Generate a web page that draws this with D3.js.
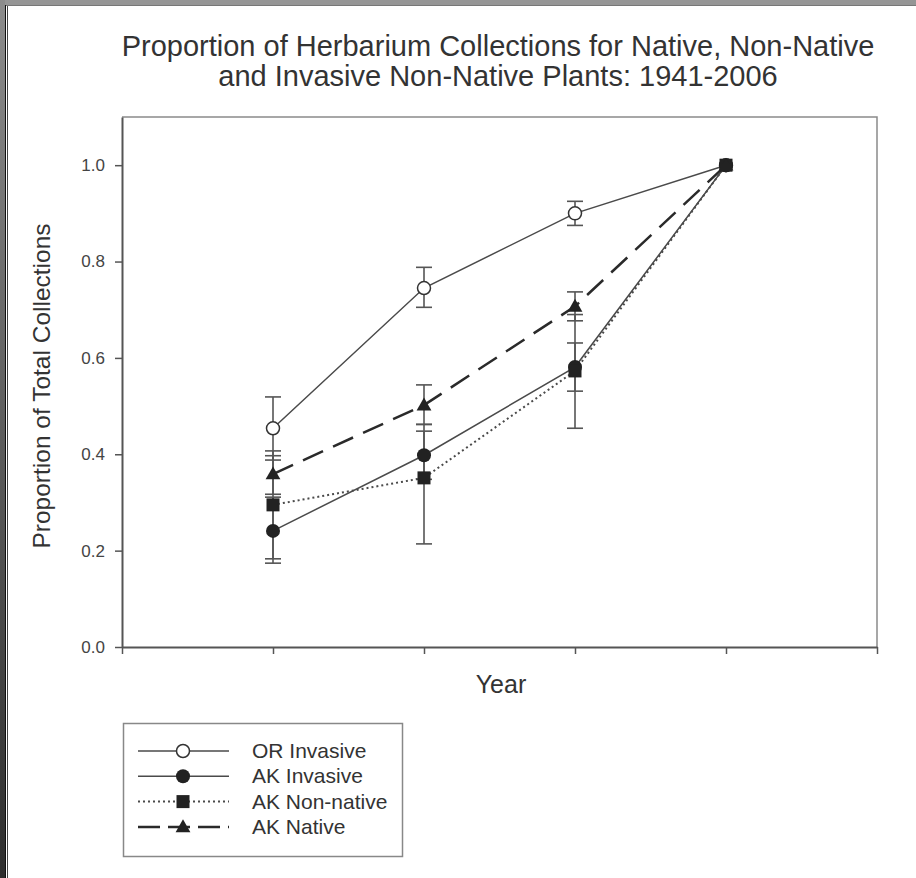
<!DOCTYPE html>
<html>
<head>
<meta charset="utf-8">
<script src="https://cdn.jsdelivr.net/npm/d3@7"></script>
<style>
  body { margin: 0; background: #fff; }
  svg { display: block; font-family: "Liberation Sans", Arial, sans-serif; }
</style>
</head>
<body>
<div id="chart-area"></div>
<script>
// periods on the x axis (no labels in the original)
const periods = [1, 2, 3, 4];
const yTicks = [0, 0.2, 0.4, 0.6, 0.8, 1.0];

const orInvasive   = [0.454, 0.745, 0.900, 1.0];
const orInvasiveLo = [0.388, 0.705, 0.875, 1.0];
const orInvasiveHi = [0.519, 0.788, 0.925, 1.0];

const akInvasive   = [0.241, 0.398, 0.581, 1.0];
const akInvasiveLo = [0.174, 0.348, 0.531, 1.0];
const akInvasiveHi = [0.311, 0.448, 0.631, 1.0];

const akNonNative   = [0.295, 0.351, 0.573, 1.0];
const akNonNativeLo = [0.183, 0.214, 0.454, 1.0];
const akNonNativeHi = [0.407, 0.462, 0.690, 1.0];

const akNative   = [0.359, 0.502, 0.707, 1.0];
const akNativeLo = [0.317, 0.462, 0.677, 1.0];
const akNativeHi = [0.397, 0.544, 0.737, 1.0];

const seriesNames = ["OR Invasive", "AK Invasive", "AK Non-native", "AK Native"];

const W = 916, H = 878;
const margin = { left: 122, right: 39, top: 117, bottom: 231 };
const width = W - margin.left - margin.right, height = H - margin.top - margin.bottom;

const svg = d3.select("#chart-area").append("svg")
    .attr("width", W)
    .attr("height", H);

// window frame round the picture
const grad = svg.append("defs").append("linearGradient")
    .attr("id", "side").attr("x1", 0).attr("y1", 0).attr("x2", 0).attr("y2", 1);
grad.append("stop").attr("offset", "0%").attr("stop-color", "#8c8c8c");
grad.append("stop").attr("offset", "100%").attr("stop-color", "#2e2e2e");
svg.append("rect").attr("x", 0).attr("y", 0).attr("width", W).attr("height", 5).attr("fill", "#959595");
svg.append("line").attr("x1", 5).attr("x2", W).attr("y1", 5.5).attr("y2", 5.5).attr("stroke", "#777");
svg.append("rect").attr("x", 0).attr("y", 0).attr("width", 5).attr("height", H).attr("fill", "url(#side)");
svg.append("line").attr("x1", 5.5).attr("x2", 5.5).attr("y1", 5).attr("y2", H).attr("stroke", "#111");
svg.append("line").attr("x1", 7.5).attr("x2", 7.5).attr("y1", 6).attr("y2", H).attr("stroke", "#444");

// title
const title = svg.append("text")
    .attr("x", 498)
    .attr("text-anchor", "middle")
    .attr("font-size", "29px")
    .attr("fill", "#333");
title.append("tspan").attr("x", 498).attr("y", 56).text("Proportion of Herbarium Collections for Native, Non-Native");
title.append("tspan").attr("x", 498).attr("y", 86).text("and Invasive Non-Native Plants: 1941-2006");

const g = svg.append("g")
    .attr("transform", "translate(" + margin.left + "," + margin.top + ")");

const x = d3.scaleLinear().domain([0, 5]).range([0, width]);
const y = d3.scaleLinear().domain([0, 1.1]).range([height, 0]);

// frame top / right
g.append("path")
  .attr("d", "M0,0H" + width + "V" + height)
  .attr("fill", "none")
  .attr("stroke", "#8a8a8a")
  .attr("stroke-width", 1.5);

const xAxis = d3.axisBottom(x).tickValues([0, 1, 2, 3, 4, 5]).tickFormat("").tickSize(7).tickSizeOuter(0);
const yAxis = d3.axisLeft(y).tickValues(yTicks).tickFormat(d3.format(".1f")).tickSize(7).tickSizeOuter(0).tickPadding(10);

const gx = g.append("g").attr("transform", "translate(0," + height + ")").call(xAxis);
const gy = g.append("g").call(yAxis);
[gx, gy].forEach(a => {
  a.select(".domain").attr("stroke", "#555").attr("stroke-width", 2);
  a.selectAll(".tick line").attr("stroke", "#555").attr("stroke-width", 1.5);
  a.selectAll(".tick text").attr("font-size", "17px").attr("fill", "#444")
    .attr("font-family", "Liberation Sans, Arial, sans-serif");
});

g.append("text")
  .attr("x", 379)
  .attr("y", height + 46)
  .attr("text-anchor", "middle")
  .attr("font-size", "25px")
  .attr("fill", "#333")
  .text("Year");

g.append("text")
  .attr("transform", "rotate(-90)")
  .attr("x", -(269))
  .attr("y", -72)
  .attr("text-anchor", "middle")
  .attr("font-size", "24.5px")
  .attr("fill", "#333")
  .text("Proportion of Total Collections");

const series = [
  { name: seriesNames[0], v: orInvasive, lo: orInvasiveLo, hi: orInvasiveHi, dash: null, w: 1.5, shape: "open" },
  { name: seriesNames[1], v: akInvasive, lo: akInvasiveLo, hi: akInvasiveHi, dash: null, w: 1.5, shape: "circle" },
  { name: seriesNames[2], v: akNonNative, lo: akNonNativeLo, hi: akNonNativeHi, dash: "2,3", w: 2, shape: "square" },
  { name: seriesNames[3], v: akNative, lo: akNativeLo, hi: akNativeHi, dash: "22,11", w: 2.5, shape: "triangle" }
];

// error bars
series.forEach(s => {
  const eb = g.append("g").attr("stroke", "#555").attr("stroke-width", 1.6);
  periods.forEach((p, i) => {
    if (s.lo[i] === s.hi[i]) return;
    eb.append("line").attr("x1", x(p)).attr("x2", x(p)).attr("y1", y(s.lo[i])).attr("y2", y(s.hi[i]));
    [s.lo[i], s.hi[i]].forEach(e => {
      eb.append("line").attr("x1", x(p) - 8).attr("x2", x(p) + 8).attr("y1", y(e)).attr("y2", y(e));
    });
  });
});

const line = d3.line().x(d => x(d[0])).y(d => y(d[1]));

series.forEach(s => {
  g.append("path")
    .datum(periods.map((p, i) => [p, s.v[i]]))
    .attr("d", line)
    .attr("fill", "none")
    .attr("stroke", s.shape === "triangle" ? "#2a2a2a" : "#4a4a4a")
    .attr("stroke-width", s.w)
    .attr("stroke-dasharray", s.dash);
});

function marker(sel, shape, cx, cy) {
  if (shape === "open") {
    sel.append("circle").attr("cx", cx).attr("cy", cy).attr("r", 6.5)
      .attr("fill", "#fff").attr("stroke", "#333").attr("stroke-width", 1.5);
  } else if (shape === "circle") {
    sel.append("circle").attr("cx", cx).attr("cy", cy).attr("r", 7).attr("fill", "#222");
  } else if (shape === "square") {
    sel.append("rect").attr("x", cx - 6.5).attr("y", cy - 6.5).attr("width", 13).attr("height", 13).attr("fill", "#222");
  } else {
    sel.append("path").attr("d", d3.symbol(d3.symbolTriangle, 95)()).attr("transform", "translate(" + cx + "," + (cy + 1) + ")").attr("fill", "#222");
  }
}

series.forEach(s => {
  const mg = g.append("g");
  periods.forEach((p, i) => marker(mg, s.shape, x(p), y(s.v[i])));
});

// legend
const lg = svg.append("g").attr("transform", "translate(123,723)");
lg.append("rect").attr("x", 0.5).attr("y", 0.5).attr("width", 279).attr("height", 133)
  .attr("fill", "#fff").attr("stroke", "#888").attr("stroke-width", 1.5);

series.forEach((s, i) => {
  const ry = 28 + i * 25.3;
  const row = lg.append("g");
  row.append("line").attr("x1", 15).attr("x2", 106).attr("y1", ry).attr("y2", ry)
    .attr("stroke", s.shape === "triangle" ? "#2a2a2a" : "#4a4a4a")
    .attr("stroke-width", s.w)
    .attr("stroke-dasharray", s.shape === "triangle" ? "22,8" : s.dash);
  marker(row, s.shape, 60, ry);
  row.append("text").attr("x", 129).attr("y", ry + 7).attr("font-size", "21px").attr("fill", "#333").text(s.name);
});
</script>
</body>
</html>
